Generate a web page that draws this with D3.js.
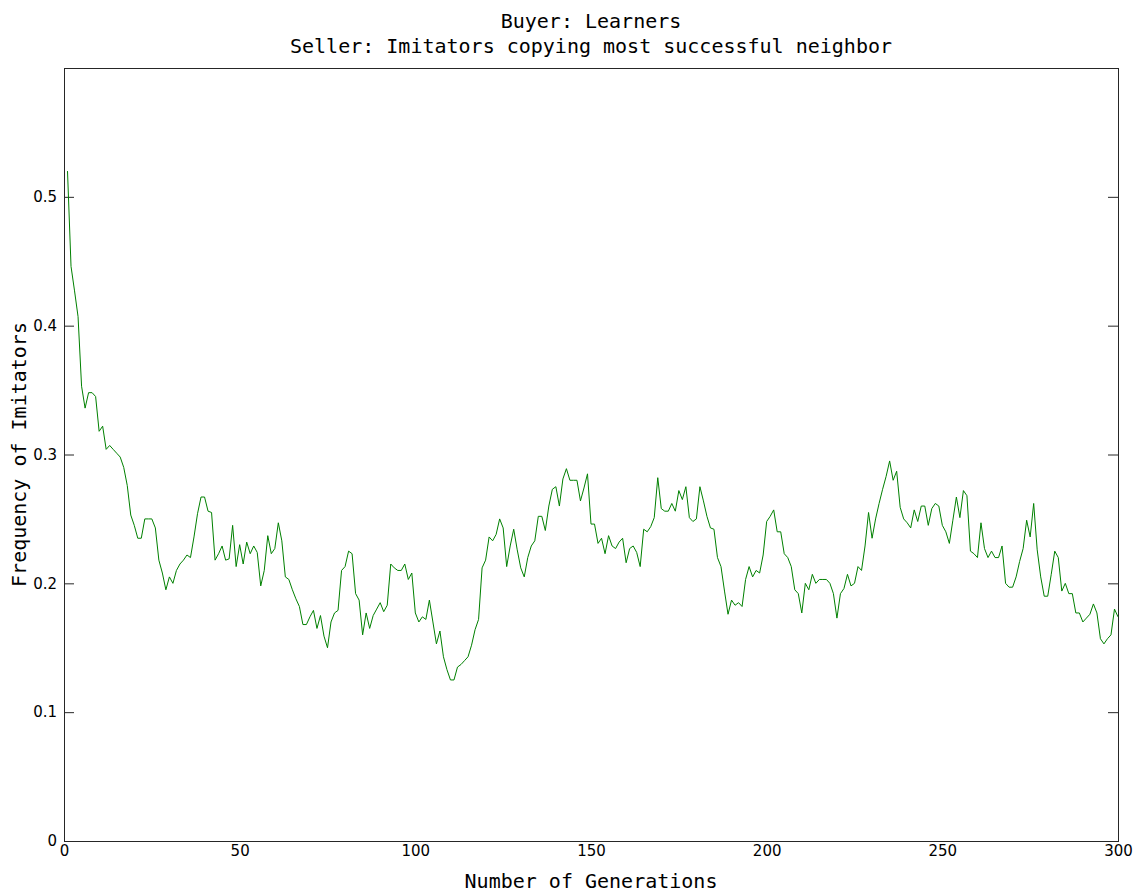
<!DOCTYPE html>
<meta charset="utf-8">
<style>
body { margin: 0; background: #fff; }
.frame { fill: none; stroke: #262626; stroke-width: 1; }
.axis path { display: none; }
.axis line { stroke: #262626; }
.axis text { font-family: "DejaVu Sans", sans-serif; font-size: 15px; fill: #000; }
.title, .label { font-family: "DejaVu Sans Mono", monospace; font-size: 20px; fill: #000; }
.series { fill: none; stroke: #008000; stroke-width: 1; }
</style>
<svg width="1134" height="892"></svg>
<script src="https://d3js.org/d3.v7.min.js"></script>
<script>

  // frequency of imitators, generations 1..300
  var frequency = [
    0.52, 0.446, 0.427, 0.407, 0.353, 0.336, 0.348, 0.348, 0.345, 0.318,
    0.322, 0.304, 0.307, 0.304, 0.301, 0.298, 0.29, 0.276, 0.253, 0.245,
    0.235, 0.235, 0.25, 0.25, 0.25, 0.243, 0.218, 0.208, 0.195, 0.205,
    0.2, 0.21, 0.215, 0.218, 0.222, 0.22, 0.236, 0.254, 0.267, 0.267,
    0.256, 0.255, 0.218, 0.223, 0.229, 0.218, 0.219, 0.245, 0.213, 0.23,
    0.215, 0.232, 0.223, 0.229, 0.224, 0.198, 0.21, 0.237, 0.223, 0.227,
    0.247, 0.233, 0.205, 0.203, 0.195, 0.188, 0.182, 0.168, 0.168, 0.174,
    0.179, 0.165, 0.175, 0.159, 0.15, 0.17, 0.177, 0.179, 0.21, 0.213,
    0.225, 0.223, 0.192, 0.187, 0.16, 0.177, 0.165, 0.175, 0.18, 0.185,
    0.178, 0.183, 0.215, 0.212, 0.21, 0.21, 0.215, 0.203, 0.208, 0.177,
    0.17, 0.174, 0.172, 0.187, 0.17, 0.153, 0.163, 0.143, 0.133, 0.125,
    0.125, 0.135, 0.137, 0.14, 0.143, 0.152, 0.164, 0.172, 0.212, 0.218,
    0.236, 0.233, 0.238, 0.25, 0.243, 0.213, 0.229, 0.242, 0.226, 0.212,
    0.205, 0.22, 0.229, 0.233, 0.252, 0.252, 0.241, 0.26, 0.273, 0.275,
    0.26, 0.281, 0.289, 0.28, 0.28, 0.28, 0.264, 0.274, 0.285, 0.246,
    0.246, 0.231, 0.235, 0.223, 0.237, 0.229, 0.227, 0.232, 0.235, 0.216,
    0.227, 0.229, 0.224, 0.213, 0.242, 0.24, 0.244, 0.251, 0.282, 0.258,
    0.256, 0.256, 0.262, 0.256, 0.272, 0.265, 0.275, 0.251, 0.248, 0.25,
    0.275, 0.264, 0.252, 0.243, 0.242, 0.22, 0.213, 0.194, 0.176, 0.187,
    0.183, 0.185, 0.182, 0.203, 0.213, 0.205, 0.21, 0.208, 0.222, 0.248,
    0.252, 0.257, 0.24, 0.24, 0.223, 0.22, 0.213, 0.195, 0.192, 0.177,
    0.2, 0.195, 0.207, 0.2, 0.203, 0.203, 0.203, 0.2, 0.192, 0.173,
    0.192, 0.196, 0.207, 0.198, 0.2, 0.213, 0.21, 0.229, 0.255, 0.235,
    0.25, 0.262, 0.273, 0.283, 0.295, 0.28, 0.287, 0.259, 0.25, 0.247,
    0.243, 0.257, 0.248, 0.26, 0.26, 0.245, 0.258, 0.262, 0.26, 0.245,
    0.24, 0.231, 0.249, 0.267, 0.251, 0.272, 0.268, 0.225, 0.223, 0.22,
    0.247, 0.227, 0.22, 0.225, 0.22, 0.22, 0.229, 0.2, 0.197, 0.197,
    0.205, 0.217, 0.227, 0.249, 0.236, 0.262, 0.226, 0.205, 0.19, 0.19,
    0.207, 0.225, 0.22, 0.194, 0.2, 0.192, 0.192, 0.177, 0.177, 0.17,
    0.173, 0.176, 0.184, 0.177, 0.157, 0.153, 0.157, 0.16, 0.18, 0.174
  ];

  var xTicks = [0, 50, 100, 150, 200, 250, 300];
  var yTicks = [0, 0.1, 0.2, 0.3, 0.4, 0.5];

  var titleLines = ["Buyer: Learners", "Seller: Imitators copying most successful neighbor"];
  var xLabel = "Number of Generations";
  var yLabel = "Frequency of Imitators";

  var svg = d3.select("svg"),
      margin = {top: 68, right: 16, bottom: 51, left: 64},
      width = svg.attr("width") - margin.left - margin.right,
      height = svg.attr("height") - margin.top - margin.bottom;

  var x = d3.scaleLinear().domain([0, 300]).range([0, width]);
  var y = d3.scaleLinear().domain([0, 0.6]).range([height, 0]);

  var g = svg.append("g")
    .attr("transform", "translate(" + margin.left + "," + margin.top + ")");

  // x axis: labels only
  g.append("g")
    .attr("class", "axis axis--x")
    .attr("transform", "translate(0," + height + ")")
    .call(d3.axisBottom(x).tickValues(xTicks).tickSize(0).tickPadding(4)
      .tickFormat(d3.format("d")));

  // y axis: inward ticks on left and right
  g.append("g")
    .attr("class", "axis axis--y")
    .call(d3.axisLeft(y).tickValues(yTicks).tickSizeInner(-10).tickPadding(7)
      .tickFormat(function(d) { return d === 0 ? "0" : d3.format(".1f")(d); }));

  g.append("g")
    .attr("class", "axis")
    .attr("transform", "translate(" + width + ",0)")
    .call(d3.axisRight(y).tickValues(yTicks).tickSizeInner(-10).tickFormat(""));

  g.append("rect")
    .attr("class", "frame")
    .attr("x", 0.5)
    .attr("y", 0.5)
    .attr("width", width)
    .attr("height", height);

  // the series
  var line = d3.line()
    .x(function(d, i) { return x(i + 1); })
    .y(function(d) { return y(d); });

  g.append("path")
    .datum(frequency)
    .attr("class", "series")
    .attr("d", line);

  // titles and labels
  svg.selectAll(".title")
    .data(titleLines)
    .enter().append("text")
    .attr("class", "title")
    .attr("x", margin.left + width / 2)
    .attr("y", function(d, i) { return 28 + i * 25; })
    .attr("text-anchor", "middle")
    .text(function(d) { return d; });

  svg.append("text")
    .attr("class", "label")
    .attr("x", margin.left + width / 2)
    .attr("y", 888)
    .attr("text-anchor", "middle")
    .text(xLabel);

  svg.append("text")
    .attr("class", "label")
    .attr("transform", "translate(26," + (margin.top + height / 2) + ") rotate(-90)")
    .attr("text-anchor", "middle")
    .text(yLabel);
</script>
